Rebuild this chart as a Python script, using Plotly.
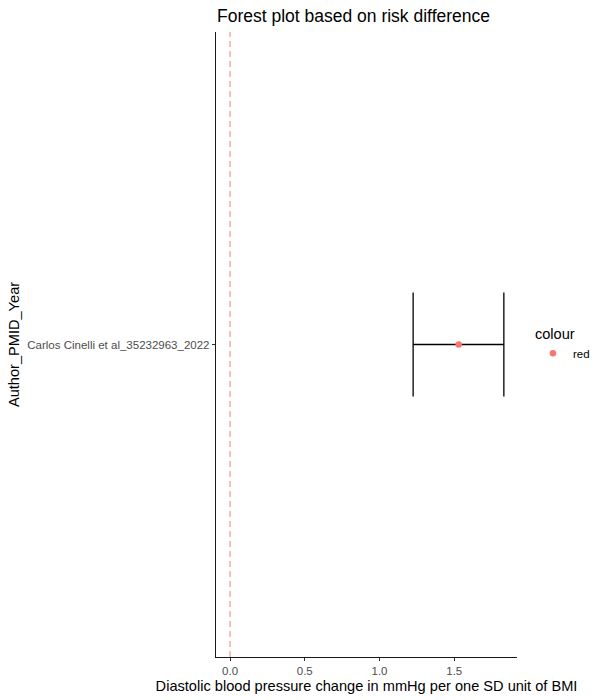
import plotly.graph_objects as go

studies = ["Carlos Cinelli et al_35232963_2022"]
estimate = [1.53]
lower = [1.225]
upper = [1.832]
y_pos = [1]
legend_labels = ["red"]
x_ticks = [0.0, 0.5, 1.0, 1.5]
x_tick_text = ["0.0", "0.5", "1.0", "1.5"]

fig = go.Figure()

# error bars drawn as lines from data
for y, lo, hi in zip(y_pos, lower, upper):
    fig.add_trace(go.Scatter(x=[lo, hi], y=[y, y], mode="lines",
                             line=dict(color="black", width=1.3), showlegend=False, hoverinfo="skip"))
    for xv in (lo, hi):
        fig.add_trace(go.Scatter(x=[xv, xv], y=[y - 0.1, y + 0.1], mode="lines",
                                 line=dict(color="black", width=1.3), showlegend=False, hoverinfo="skip"))

fig.add_trace(go.Scatter(x=estimate, y=y_pos, mode="markers", name=legend_labels[0],
                         marker=dict(color="#F8766D", size=6.5), showlegend=True))

# reference line at zero
fig.add_trace(go.Scatter(x=[0, 0], y=[0.4, 1.6], mode="lines",
                         line=dict(color="#FF7A7A", width=1, dash="6px,4px"),
                         showlegend=False, hoverinfo="skip"))

fig.update_layout(
    width=601, height=700,
    margin=dict(l=216, r=84, t=32, b=43, autoexpand=False),
    paper_bgcolor="white", plot_bgcolor="white",
    font=dict(family="Liberation Sans, Arial, sans-serif", color="black"),
    title=dict(text="Forest plot based on risk difference", x=217 / 601,
               xanchor="left", y=0.978, yanchor="middle", font=dict(size=17.5, color="black")),
    xaxis=dict(range=[-0.094, 1.92], tickvals=x_ticks, ticktext=x_tick_text,
               showgrid=False, zeroline=False, showline=True, linecolor="#1a1a1a", linewidth=1.4,
               ticks="outside", ticklen=3, tickcolor="#333333", tickwidth=1,
               tickfont=dict(size=11.5, color="#4D4D4D"),
               title=dict(text="Diastolic blood pressure change in mmHg per one SD unit of BMI",
                          font=dict(size=14.6, color="black"), standoff=4)),
    yaxis=dict(range=[0.4, 1.6], tickvals=y_pos, ticktext=studies,
               showgrid=False, zeroline=False, showline=True, linecolor="#1a1a1a", linewidth=1.4,
               ticks="outside", ticklen=3, tickcolor="#333333", tickwidth=1,
               tickfont=dict(size=11.5, color="#4D4D4D"),
               title=dict(text="Author_PMID_Year", font=dict(size=14.6, color="black"), standoff=4)),
    legend=dict(title=dict(text="colour", font=dict(size=14.6, color="black")),
                x=1.053, xanchor="left", y=0.501, yanchor="middle",
                font=dict(size=11.5, color="black"), itemsizing="trace",
                bgcolor="rgba(0,0,0,0)"),
)

fig.write_html("out.html")
